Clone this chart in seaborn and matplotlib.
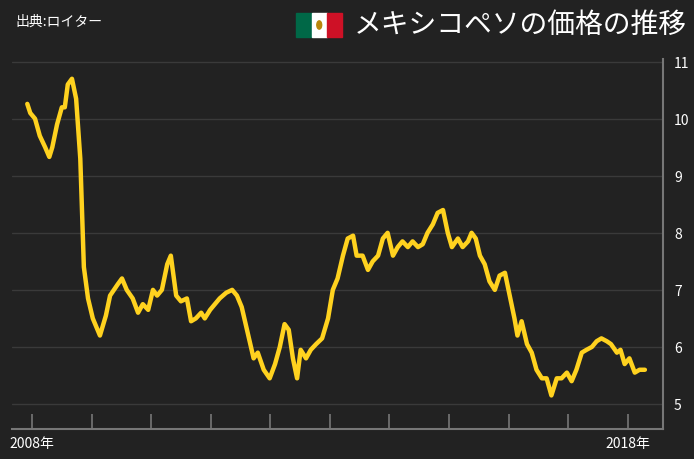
import matplotlib
matplotlib.use("Agg")
import matplotlib.pyplot as plt
import seaborn as sns
import pandas as pd
from matplotlib.patches import Rectangle, Ellipse

years = [2007.92,2007.97,2008.05,2008.13,2008.22,2008.29,2008.34,2008.42,2008.50,2008.55,2008.60,2008.67,2008.74,2008.81,2008.87,2008.94,
 2009.02,2009.14,2009.24,2009.31,2009.44,2009.51,2009.59,2009.69,2009.78,2009.86,2009.95,
 2010.03,2010.10,2010.18,2010.27,2010.33,2010.42,2010.50,2010.60,2010.67,2010.75,2010.84,2010.90,2010.99,
 2011.07,2011.15,2011.26,2011.36,2011.44,2011.52,2011.62,2011.72,2011.79,2011.89,2011.99,
 2012.08,2012.16,2012.24,2012.31,2012.38,2012.45,2012.51,2012.60,2012.68,2012.77,2012.87,2012.97,
 2013.05,2013.13,2013.22,2013.30,2013.39,2013.45,2013.55,2013.64,2013.72,2013.81,2013.89,2013.97,
 2014.06,2014.14,2014.22,2014.31,2014.39,2014.48,2014.56,2014.64,2014.73,2014.81,2014.90,2014.98,
 2015.05,2015.15,2015.23,2015.32,2015.38,2015.45,2015.52,2015.60,2015.68,2015.77,2015.85,2015.94,
 2016.02,2016.10,2016.15,2016.22,2016.31,2016.39,2016.47,2016.56,2016.64,2016.72,2016.81,2016.89,2016.98,
 2017.06,2017.14,2017.23,2017.31,2017.40,2017.48,2017.56,2017.65,2017.72,2017.82,2017.88,2017.95,
 2018.03,2018.12,2018.20,2018.29]
values = [10.26,10.1,10.0,9.7,9.5,9.33,9.5,9.9,10.2,10.2,10.6,10.7,10.35,9.3,7.4,6.85,
 6.5,6.2,6.55,6.9,7.1,7.2,7.0,6.85,6.6,6.75,6.65,
 7.0,6.9,7.0,7.45,7.6,6.9,6.8,6.85,6.45,6.5,6.6,6.5,6.65,
 6.75,6.85,6.95,7.0,6.9,6.7,6.25,5.8,5.9,5.6,5.45,
 5.7,6.0,6.4,6.3,5.8,5.45,5.95,5.8,5.95,6.05,6.15,6.5,
 7.0,7.2,7.6,7.9,7.95,7.6,7.6,7.35,7.5,7.6,7.9,8.0,
 7.6,7.75,7.85,7.75,7.85,7.75,7.8,8.0,8.15,8.35,8.4,8.0,
 7.75,7.9,7.75,7.85,8.0,7.9,7.6,7.45,7.15,7.0,7.25,7.3,
 6.9,6.5,6.2,6.45,6.05,5.9,5.6,5.45,5.45,5.15,5.45,5.45,5.55,
 5.4,5.6,5.9,5.95,6.0,6.1,6.15,6.1,6.05,5.9,5.95,5.7,
 5.8,5.55,5.6,5.6]
tick_years = list(range(2008, 2019))
x_labels = {2008: "2008年", 2018: "2018年"}
y_ticks = [5, 6, 7, 8, 9, 10, 11]
title = "メキシコペソの価格の推移"
source = "出典:ロイター"

sns.set_style("dark")
plt.rcParams['font.family'] = ['Noto Sans CJK JP', 'DejaVu Sans']
bg = "#222222"
fig = plt.figure(figsize=(6.94, 4.6), dpi=100, facecolor=bg)
ax = fig.add_axes([0.017, 0.065, 0.938, 0.805], facecolor=bg)
df = pd.DataFrame({"year": years, "value": values})
sns.lineplot(data=df, x="year", y="value", ax=ax, color="#FFD21F", lw=3.2)
ax.set_xlim(2007.66, 2018.59)
ax.set_ylim(4.56, 11.05)
ax.set_xlabel(""); ax.set_ylabel("")
for v in y_ticks:
    ax.axhline(v, color="#3a3a3a", lw=1, zorder=0)
ax.grid(False)
ax.yaxis.tick_right()
ax.set_yticks(y_ticks)
ax.set_yticklabels([str(v) for v in y_ticks], color="white", fontsize=10)
ax.tick_params(axis="y", length=0, pad=8)
ax.set_xticks(tick_years)
ax.set_xticklabels([""] * len(tick_years))
ax.tick_params(axis="x", bottom=True, direction="in", length=11, color="#777777", width=1.2)
for s in ["top", "left"]:
    ax.spines[s].set_visible(False)
for s in ["bottom", "right"]:
    ax.spines[s].set_color("#777777"); ax.spines[s].set_linewidth(1.5)
for yr, lab in x_labels.items():
    ax.annotate(lab, (yr, 0), xycoords=("data", "axes fraction"), xytext=(0, -5),
                textcoords="offset points", ha="center", va="top", color="white", fontsize=10)

fig.text(0.022, 0.953, source, color="white", fontsize=10, va="center")
fig.text(0.99, 0.945, title, color="white", fontsize=20, va="center", ha="right")
# flag
fx, fy, fw, fh = 0.427, 0.917, 0.066, 0.053
w3 = fw / 3
for i, c in enumerate(["#006847", "white", "#CE1126"]):
    fig.patches.append(Rectangle((fx + i * w3, fy), w3, fh, transform=fig.transFigure, color=c))
fig.patches.append(Ellipse((fx + 1.5 * w3, fy + fh / 2), 0.007, 0.018, transform=fig.transFigure, color="#B8860B"))
fig.savefig("out.png", facecolor=bg)
